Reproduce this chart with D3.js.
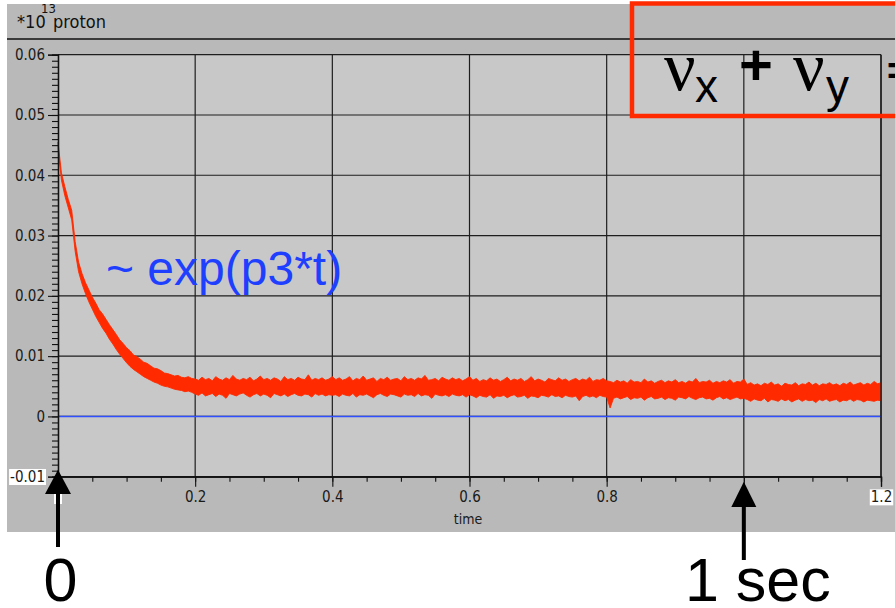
<!DOCTYPE html>
<html>
<head>
<meta charset="utf-8">
<script src="https://cdn.jsdelivr.net/npm/d3@7"></script>
<style>
  html, body { margin: 0; padding: 0; background: #ffffff; }
  svg { display: block; }
  .narrow { font-family: "Liberation Sans Narrow", "DejaVu Sans Condensed", "Liberation Sans", sans-serif; }
</style>
</head>
<body>
<svg id="chart" width="895" height="608"></svg>
<script>
// ---------------- data ----------------
const headerUnit = "*10";
const headerExponent = "13";
const headerQuantity = "proton";
const xAxisTitle = "time";

const xTicks = [0, 0.2, 0.4, 0.6, 0.8, 1.0, 1.2];
const xTickLabels = ["0", "0.2", "0.4", "0.6", "0.8", "1", "1.2"];
const xShownLabels = ["", "0.2", "0.4", "0.6", "0.8", "", "1.2"];
const yTicks = [-0.01, 0, 0.01, 0.02, 0.03, 0.04, 0.05, 0.06];
const yTickLabels = ["-0.01", "0", "0.01", "0.02", "0.03", "0.04", "0.05", "0.06"];

const sampleStep = 0.005; // seconds between samples (t = 0 ... 1.2)

// upper edge of the noisy red band (×10^13 protons)
const bandUpper = [
  0.0455,0.0404,0.0381,0.0360,0.0342,0.0290,0.0256,0.0237,0.0222,0.0210,
  0.0198,0.0188,0.0177,0.0170,0.0161,0.0152,0.0144,0.0136,0.0127,0.0121,
  0.0114,0.0109,0.0102,0.0099,0.0095,0.0090,0.0088,0.0084,0.0080,0.0079,
  0.0076,0.0072,0.0071,0.0069,0.0067,0.0068,0.0065,0.0064,0.0066,0.0063,
  0.0062,0.0060,0.0065,0.0061,0.0063,0.0059,0.0066,0.0062,0.0060,0.0064,
  0.0061,0.0068,0.0062,0.0060,0.0063,0.0061,0.0065,0.0059,0.0062,0.0067,
  0.0061,0.0063,0.0060,0.0064,0.0062,0.0058,0.0066,0.0061,0.0063,0.0060,
  0.0065,0.0062,0.0061,0.0069,0.0060,0.0063,0.0061,0.0064,0.0060,0.0062,0.0066,
  0.0061,0.0064,0.0060,0.0062,0.0066,0.0059,0.0063,0.0061,0.0067,0.0060,
  0.0062,0.0064,0.0058,0.0063,0.0061,0.0065,0.0060,0.0062,0.0063,0.0059,
  0.0066,0.0061,0.0063,0.0060,0.0064,0.0062,0.0068,0.0060,0.0061,0.0063,
  0.0059,0.0065,0.0062,0.0060,0.0064,0.0061,0.0063,0.0059,0.0062,0.0066,
  0.0060,0.0063,0.0058,0.0061,0.0059,0.0064,0.0060,0.0062,0.0058,0.0061,
  0.0065,0.0059,0.0062,0.0060,0.0063,0.0058,0.0061,0.0066,0.0059,0.0062,
  0.0060,0.0057,0.0063,0.0061,0.0059,0.0064,0.0060,0.0062,0.0058,0.0061,
  0.0063,0.0059,0.0062,0.0060,0.0065,0.0058,0.0061,0.0060,0.0063,0.0059,
  0.0058,0.0056,0.0060,0.0057,0.0059,0.0055,0.0061,0.0057,0.0058,0.0056,
  0.0062,0.0057,0.0059,0.0055,0.0058,0.0060,0.0056,0.0059,0.0057,0.0061,
  0.0056,0.0058,0.0055,0.0059,0.0057,0.0063,0.0056,0.0058,0.0057,0.0060,
  0.0055,0.0058,0.0056,0.0059,0.0057,0.0061,0.0055,0.0058,0.0057,0.0062,
  0.0053,0.0056,0.0052,0.0054,0.0051,0.0055,0.0053,0.0057,0.0052,0.0054,
  0.0050,0.0055,0.0053,0.0052,0.0056,0.0051,0.0054,0.0053,0.0057,0.0052,
  0.0055,0.0051,0.0054,0.0053,0.0056,0.0052,0.0054,0.0051,0.0055,0.0053,
  0.0057,0.0052,0.0054,0.0056,0.0052,0.0055,0.0053,0.0058,0.0054,0.0056
];

// lower edge of the noisy red band (×10^13 protons)
const bandLower = [
  0.0445,0.0392,0.0366,0.0346,0.0326,0.0274,0.0240,0.0220,0.0204,0.0190,
  0.0178,0.0166,0.0156,0.0146,0.0138,0.0128,0.0120,0.0111,0.0103,0.0096,
  0.0089,0.0083,0.0078,0.0074,0.0070,0.0066,0.0063,0.0060,0.0057,0.0055,
  0.0052,0.0050,0.0049,0.0047,0.0045,0.0044,0.0043,0.0041,0.0042,0.0040,
  0.0037,0.0035,0.0039,0.0034,0.0036,0.0038,0.0033,0.0037,0.0035,0.0030,
  0.0038,0.0036,0.0034,0.0037,0.0039,0.0035,0.0032,0.0036,0.0038,0.0034,
  0.0037,0.0035,0.0031,0.0038,0.0036,0.0034,0.0037,0.0033,0.0036,0.0038,
  0.0035,0.0034,0.0037,0.0036,0.0032,0.0038,0.0035,0.0037,0.0034,0.0036,0.0035,
  0.0036,0.0033,0.0037,0.0035,0.0034,0.0038,0.0032,0.0036,0.0035,0.0037,
  0.0034,0.0031,0.0036,0.0038,0.0035,0.0033,0.0037,0.0036,0.0034,0.0032,
  0.0037,0.0035,0.0036,0.0033,0.0038,0.0034,0.0036,0.0035,0.0030,0.0037,
  0.0035,0.0034,0.0036,0.0033,0.0037,0.0035,0.0034,0.0036,0.0032,0.0036,
  0.0034,0.0031,0.0035,0.0033,0.0032,0.0036,0.0030,0.0034,0.0033,0.0035,
  0.0031,0.0034,0.0036,0.0032,0.0033,0.0035,0.0030,0.0034,0.0033,0.0031,
  0.0035,0.0034,0.0032,0.0036,0.0033,0.0034,0.0031,0.0035,0.0033,0.0032,
  0.0034,0.0026,0.0033,0.0035,0.0032,0.0034,0.0031,0.0035,0.0033,0.0032,
  0.0014,0.0030,0.0032,0.0029,0.0031,0.0033,0.0028,0.0031,0.0030,0.0032,
  0.0027,0.0031,0.0033,0.0029,0.0030,0.0032,0.0028,0.0031,0.0030,0.0027,
  0.0032,0.0031,0.0029,0.0033,0.0030,0.0028,0.0031,0.0032,0.0029,0.0030,
  0.0027,0.0031,0.0033,0.0029,0.0031,0.0028,0.0030,0.0032,0.0029,0.0030,
  0.0028,0.0025,0.0029,0.0027,0.0026,0.0030,0.0024,0.0028,0.0027,0.0025,
  0.0029,0.0026,0.0028,0.0024,0.0027,0.0029,0.0025,0.0028,0.0026,0.0027,
  0.0023,0.0028,0.0026,0.0029,0.0025,0.0027,0.0028,0.0024,0.0027,0.0026,
  0.0029,0.0025,0.0028,0.0027,0.0024,0.0027,0.0026,0.0025,0.0027,0.0026
];

const fitLabel = "~ exp(p3*t)";
const zeroMarkerTime = 0;
const oneSecondTime = 1.0;
const zeroMarkerLabel = "0";
const oneSecondLabel = "1 sec";

// ---------------- drawing ----------------
const svg = d3.select("#chart");

const x = d3.scaleLinear().domain([0, 1.2]).range([58, 881]);
const y = d3.scaleLinear().domain([-0.01, 0.06]).range([476.7, 54.7]);

// outer grey panel
svg.append("rect").attr("x", 7).attr("y", 4).attr("width", 888).attr("height", 528).attr("fill", "#b9b9b9");
// header separator
svg.append("line").attr("x1", 7).attr("x2", 895).attr("y1", 39).attr("y2", 39).attr("stroke", "#111").attr("stroke-width", 1.4);

// header text
const hdr = svg.append("g").attr("class", "narrow").attr("fill", "#111");
hdr.append("text").attr("x", 17).attr("y", 28).attr("font-size", 18).text(headerUnit);
hdr.append("text").attr("x", 41).attr("y", 13).attr("font-size", 13).text(headerExponent);
hdr.append("text").attr("x", 53).attr("y", 28).attr("font-size", 18).text(headerQuantity);

// plot area
svg.append("rect")
  .attr("x", x(0)).attr("y", y(0.06))
  .attr("width", x(1.2) - x(0)).attr("height", y(-0.01) - y(0.06))
  .attr("fill", "#c8c8c8");

// gridlines
const grid = svg.append("g").attr("stroke", "#1e1e1e").attr("stroke-width", 1.2);
grid.selectAll("line.v").data(xTicks.slice(1)).join("line")
  .attr("x1", d => x(d)).attr("x2", d => x(d))
  .attr("y1", y(0.06)).attr("y2", y(-0.01));
grid.selectAll("line.h").data(yTicks).join("line")
  .attr("x1", x(0)).attr("x2", x(1.2))
  .attr("y1", d => y(d)).attr("y2", d => y(d));

// blue zero line
svg.append("line")
  .attr("x1", x(0)).attr("x2", x(1.2)).attr("y1", y(0)).attr("y2", y(0))
  .attr("stroke", "#3050ff").attr("stroke-width", 1.5);

// red noisy band
const area = d3.area()
  .x((d, i) => x(i * sampleStep))
  .y0((d, i) => y(bandLower[i]))
  .y1((d, i) => y(bandUpper[i]));
svg.append("path")
  .datum(bandUpper)
  .attr("d", area)
  .attr("fill", "#ff2a00")
  .attr("stroke", "#ff2a00")
  .attr("stroke-width", 0.9)
  .attr("stroke-linejoin", "miter");

// axes
const yAxis = d3.axisLeft(y).tickValues(yTicks).tickFormat((d, i) => yTickLabels[i]).tickSize(10).tickPadding(3);
const yMinor = d3.axisLeft(y).tickValues(d3.range(-10, 61).map(v => v / 1000)).tickFormat("").tickSize(6);
const xAxis = d3.axisBottom(x).tickValues(xTicks).tickFormat((d, i) => xShownLabels[i]).tickSize(10).tickPadding(5);
const xMinor = d3.axisBottom(x).tickValues(d3.range(0, 25).map(v => v * 0.05)).tickFormat("").tickSize(5);

function styleAxis(g) {
  g.select(".domain").attr("stroke", "#111").attr("stroke-width", 1.3);
  g.selectAll(".tick line").attr("stroke", "#111").attr("stroke-width", 1.1);
  g.selectAll("text").attr("fill", "#1a1a1a").attr("font-size", 15)
    .attr("font-family", "'Liberation Sans Narrow', 'DejaVu Sans Condensed', 'Liberation Sans', sans-serif");
}
svg.append("g").attr("transform", `translate(${x(0)},0)`).call(yMinor).call(styleAxis);
const yg = svg.append("g").attr("transform", `translate(${x(0)},0)`).call(yAxis).call(styleAxis);
svg.append("g").attr("transform", `translate(0,${y(-0.01)})`).call(xMinor).call(styleAxis);
const xg = svg.append("g").attr("transform", `translate(0,${y(-0.01)})`).call(xAxis).call(styleAxis);
svg.append("line").attr("x1", x(1.2)).attr("x2", x(1.2)).attr("y1", y(0.06)).attr("y2", y(-0.01)).attr("stroke", "#111").attr("stroke-width", 1.2);

// white label backgrounds for the "-0.01" and "1.2" labels
function whiteBg(sel) {
  sel.each(function () {
    const b = this.getBBox();
    d3.select(this.parentNode).insert("rect", "text")
      .attr("x", b.x - 1).attr("y", b.y + 1).attr("width", b.width + 2).attr("height", b.height - 2)
      .attr("fill", "#ffffff");
  });
}
yg.selectAll(".tick text").filter((d, i) => yTickLabels[i] === "-0.01").call(whiteBg);
xg.selectAll(".tick text").filter((d, i) => xShownLabels[i] === "1.2").call(whiteBg);
// remnant of hidden "0" label under the arrow
svg.append("rect").attr("x", x(0) - 4).attr("y", 494).attr("width", 8).attr("height", 10).attr("fill", "#ffffff");

// axis title
svg.append("text").attr("class", "narrow").attr("x", 468).attr("y", 524)
  .attr("text-anchor", "middle").attr("font-size", 14).attr("fill", "#1a1a1a").text(xAxisTitle);

// fit annotation
svg.append("text").attr("x", 106).attr("y", 285)
  .attr("font-family", "'Liberation Sans', Arial, sans-serif").attr("font-size", 48)
  .attr("fill", "#1f3fff").text(fitLabel);

// red tune box
svg.append("rect").attr("x", 632).attr("y", 3.5).attr("width", 300).attr("height", 112.5)
  .attr("fill", "none").attr("stroke", "#ff2a00").attr("stroke-width", 4.5);
const tune = svg.append("g").attr("fill", "#000");
tune.append("text").attr("x", 664).attr("y", 90).attr("font-family", "'Liberation Serif', 'DejaVu Serif', serif").attr("font-size", 70).text("ν");
tune.append("text").attr("x", 695).attr("y", 102).attr("font-family", "'Liberation Sans', Arial, sans-serif").attr("font-size", 46).text("x");
tune.append("text").attr("x", 739).attr("y", 85).attr("font-family", "'Liberation Sans', Arial, sans-serif").attr("font-weight", "bold").attr("font-size", 58).text("+");
tune.append("text").attr("x", 793).attr("y", 90).attr("font-family", "'Liberation Serif', 'DejaVu Serif', serif").attr("font-size", 70).text("ν");
tune.append("text").attr("x", 826).attr("y", 102).attr("font-family", "'Liberation Sans', Arial, sans-serif").attr("font-size", 46).text("y");
tune.append("text").attr("x", 887).attr("y", 84).attr("font-family", "'Liberation Sans', Arial, sans-serif").attr("font-weight", "bold").attr("font-size", 38).text("=");

// arrows
function arrow(cx, tipY, baseY, endY, halfW) {
  const g = svg.append("g");
  g.append("rect").attr("x", cx - 2).attr("y", baseY - 1).attr("width", 4).attr("height", endY - baseY + 1).attr("fill", "#000");
  g.append("path").attr("d", `M${cx},${tipY} L${cx + halfW},${baseY} L${cx - halfW},${baseY} Z`).attr("fill", "#000");
}
arrow(x(zeroMarkerTime), y(-0.01) - 7, 494, 547, 13);
arrow(x(oneSecondTime), y(-0.01) + 5, 507, 560, 12.5);

svg.append("text").attr("x", x(zeroMarkerTime) + 2.5).attr("y", 601).attr("text-anchor", "middle")
  .attr("font-family", "'Liberation Sans', Arial, sans-serif").attr("font-size", 61).attr("fill", "#000").text(zeroMarkerLabel);
svg.append("text").attr("x", 685).attr("y", 601)
  .attr("font-family", "'Liberation Sans', Arial, sans-serif").attr("font-size", 61).attr("fill", "#000").text(oneSecondLabel);
</script>
</body>
</html>
